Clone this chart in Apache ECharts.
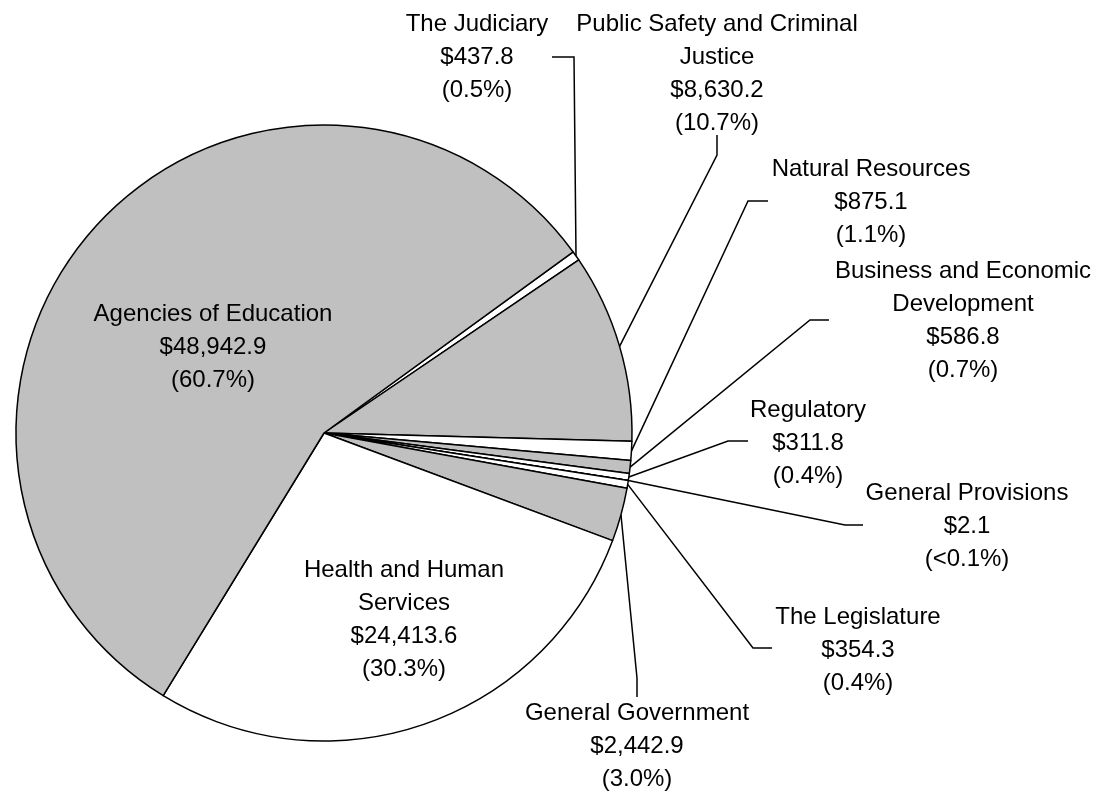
<!DOCTYPE html>
<html>
<head>
<meta charset="utf-8">
<script src="https://cdn.jsdelivr.net/npm/echarts@6/dist/echarts.min.js"></script>
<style>
  html, body { margin: 0; padding: 0; background: #fff; }
  #chart { width: 1101px; height: 792px; }
</style>
</head>
<body>
<div id="chart"></div>
<script>
// 数据（顺时针，从 The Judiciary 开始）
const names = [
  'The Judiciary',
  'Public Safety and Criminal\nJustice',
  'Natural Resources',
  'Business and Economic\nDevelopment',
  'Regulatory',
  'General Provisions',
  'The Legislature',
  'General Government',
  'Health and Human\nServices',
  'Agencies of Education'
]
const values = [437.8, 8630.2, 875.1, 586.8, 311.8, 2.1, 354.3, 2442.9, 24413.6, 48942.9]
const pctLabels = ['0.5%', '10.7%', '1.1%', '0.7%', '0.4%', '<0.1%', '0.4%', '3.0%', '30.3%', '60.7%']

// 标签位置: [中心x, 中心y]，引导线: [拐点, 终点]（null 表示不画）
const labelPos = [
  [477, 57], [717, 74], [871, 202], [963, 321], [808, 443],
  [967, 526], [858, 650], [637, 746], [404, 620], [213, 347]
]
const leaderPts = [
  [[574, 57], [552, 57]],
  [[717, 155], [717, 135]],
  [[748, 201], [768, 201]],
  [[810, 320], [829, 320]],
  [[728, 441], [748, 441]],
  [[845, 525], [863, 525]],
  [[753, 648], [772, 648]],
  [[637, 678], [637, 697]],
  null,
  null
]

const GRAY = '#c0c0c0'

const fmt = (v) => v.toLocaleString('en-US', { minimumFractionDigits: 1, maximumFractionDigits: 1 })

const chart = echarts.init(document.getElementById('chart'))

const option = {
  animation: false,
  backgroundColor: '#fff',
  textStyle: { fontFamily: '"Liberation Sans", Arial, sans-serif' },
  series: [{
    type: 'pie',
    center: [324, 433],
    radius: 308,
    startAngle: 36,
    clockwise: true,
    avoidLabelOverlap: false,
    silent: true,
    itemStyle: { borderColor: '#000', borderWidth: 1.5 },
    label: {
      show: true,
      position: 'outside',
      color: '#000',
      fontSize: 24,
      lineHeight: 33,
      align: 'center',
      fontFamily: '"Liberation Sans", Arial, sans-serif',
      formatter: (p) => `${p.name}\n$${fmt(p.value)}\n(${pctLabels[p.dataIndex]})`
    },
    labelLine: {
      show: true,
      lineStyle: { color: '#000', width: 1.5 }
    },
    labelLayout: (params) => {
      const i = params.dataIndex
      const res = { x: labelPos[i][0], y: labelPos[i][1], align: 'center', verticalAlign: 'middle' }
      const lp = leaderPts[i]
      if (lp && params.labelLinePoints) {
        res.labelLinePoints = [params.labelLinePoints[0], lp[0], lp[1]]
      }
      return res
    },
    data: names.map((n, i) => {
      const inside = i >= 8
      return {
        name: n,
        value: values[i],
        itemStyle: { color: i % 2 === 0 ? '#fff' : GRAY },
        label: inside ? { position: 'inside' } : undefined,
        labelLine: inside ? { show: false } : undefined
      }
    })
  }]
}

chart.setOption(option)
</script>
</body>
</html>
